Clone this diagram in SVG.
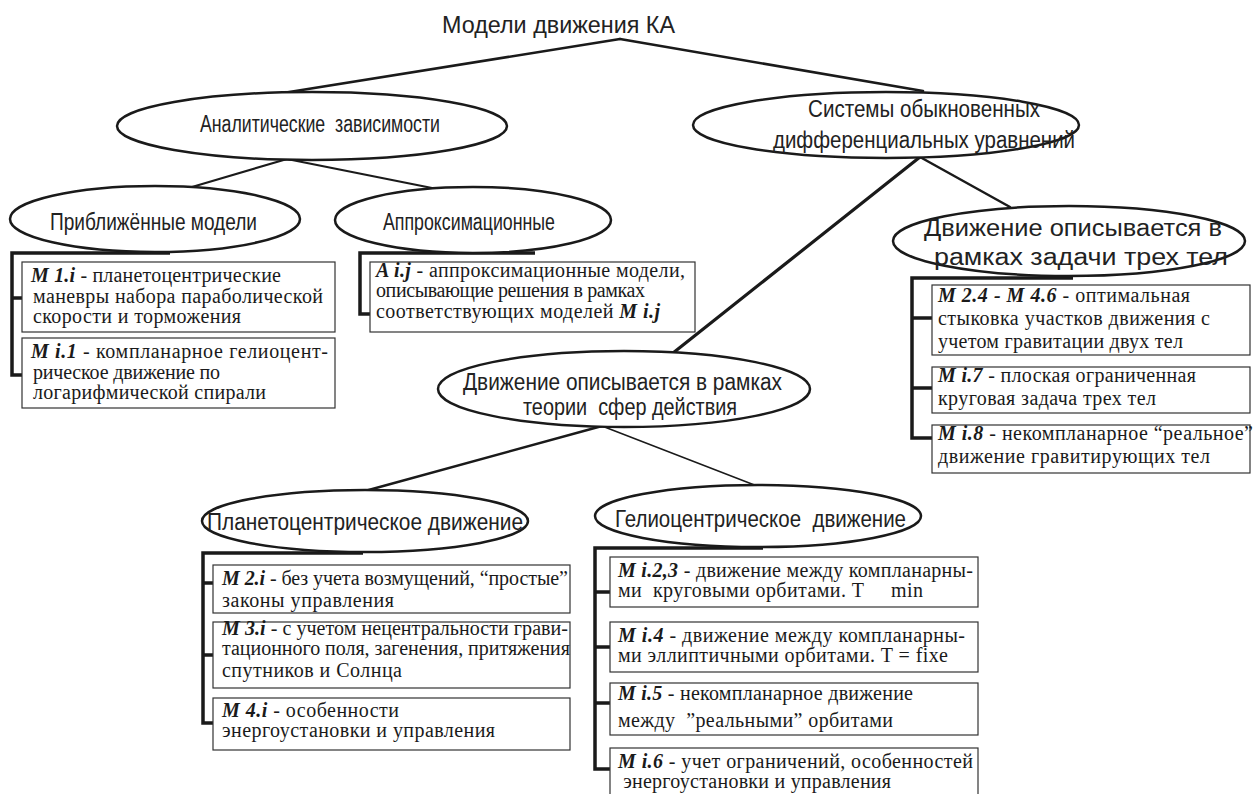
<svg xmlns="http://www.w3.org/2000/svg" width="1253" height="794" viewBox="0 0 1253 794">
<style>
.n ellipse{fill:#fff;stroke:#1a1a1a;stroke-width:2.5}
.box{fill:#fff;stroke:#333;stroke-width:1.2}
.br{fill:none;stroke:#1a1a1a;stroke-width:3.5}
.c line{stroke:#1a1a1a;stroke-linecap:round}
.e{font-family:"Liberation Sans",Arial,sans-serif;font-size:23px;fill:#222;white-space:pre}
.t{font-family:"Liberation Serif","Times New Roman",serif;font-size:20px;fill:#1a1a1a;white-space:pre}
.b{font-weight:bold;font-style:italic}
</style>
<rect width="1253" height="794" fill="#fff"/>
<g id="connectors" class="c">
<line x1="620" y1="39" x2="283" y2="93" stroke-width="2.5"/>
<line x1="620" y1="39" x2="923" y2="91" stroke-width="2.5"/>
<line x1="287" y1="159" x2="192" y2="187" stroke-width="2.2"/>
<line x1="287" y1="159" x2="437" y2="189" stroke-width="2.2"/>
<line x1="920" y1="157" x2="673" y2="353" stroke-width="3.2"/>
<line x1="920" y1="157" x2="1010" y2="207" stroke-width="2.5"/>
<line x1="602" y1="426" x2="365" y2="491" stroke-width="2.5"/>
<line x1="602" y1="426" x2="757" y2="486" stroke-width="1.5"/>
<path class="br" d="M170 253 H12 V375 H23 M12 298 H23"/>
<path class="br" d="M535 253 H360 V314 H370"/>
<path class="br" d="M1073 278 H912 V438 H932 M912 318 H932 M912 388 H932"/>
<path class="br" d="M363 553 H203 V723 H213 M203 583 H213 M203 655 H213"/>
<path class="br" d="M763 548 H595 V769 H610 M595 592 H610 M595 647 H610 M595 703 H610"/>
</g>
<g id="title"><text class="e" x="442" y="33" font-size="22" textLength="233" lengthAdjust="spacingAndGlyphs">Модели движения КА</text></g>
<g id="analytic" class="n"><ellipse cx="312" cy="126" rx="195" ry="34"/><text class="e" x="200" y="132" textLength="240" lengthAdjust="spacingAndGlyphs">Аналитические  зависимости</text></g>
<g id="ode" class="n"><ellipse cx="886" cy="125" rx="193" ry="33"/><text class="e" x="808" y="117" textLength="232" lengthAdjust="spacingAndGlyphs">Системы обыкновенных</text><text class="e" x="773" y="148" textLength="302" lengthAdjust="spacingAndGlyphs">дифференциальных уравнений</text></g>
<g id="approx-models" class="n"><ellipse cx="155" cy="219" rx="145" ry="33"/><text class="e" x="50" y="230" textLength="207" lengthAdjust="spacingAndGlyphs">Приближённые модели</text></g>
<g id="approximation" class="n"><ellipse cx="473" cy="220" rx="138" ry="33"/><text class="e" x="383" y="230" textLength="172" lengthAdjust="spacingAndGlyphs">Аппроксимационные</text></g>
<g id="three-body" class="n"><ellipse cx="1069" cy="241" rx="176" ry="35"/><text class="e" x="924" y="236" font-size="24" textLength="298" lengthAdjust="spacingAndGlyphs">Движение описывается в</text><text class="e" x="934" y="265" font-size="24" textLength="294" lengthAdjust="spacingAndGlyphs">рамках задачи трех тел</text></g>
<g id="spheres" class="n"><ellipse cx="624" cy="389" rx="186" ry="38"/><text class="e" x="463" y="390" font-size="22" textLength="319" lengthAdjust="spacingAndGlyphs">Движение описывается в рамках</text><text class="e" x="523" y="415" font-size="22" textLength="214" lengthAdjust="spacingAndGlyphs">теории  сфер действия</text></g>
<g id="planeto" class="n"><ellipse cx="365" cy="521" rx="163" ry="31"/><text class="e" x="207" y="530" textLength="316" lengthAdjust="spacingAndGlyphs">Планетоцентрическое движение</text></g>
<g id="helio" class="n"><ellipse cx="758" cy="516" rx="163" ry="31"/><text class="e" x="615" y="527" textLength="291" lengthAdjust="spacingAndGlyphs">Гелиоцентрическое  движение</text></g>

<g id="box-m1i"><rect class="box" x="22" y="262" width="313" height="70"/>
<text class="t" x="31" y="282" textLength="250"><tspan class="b">M 1.i</tspan> - планетоцентрические</text>
<text class="t" x="33" y="303" textLength="290">маневры набора параболической</text>
<text class="t" x="33" y="323" textLength="208">скорости и торможения</text></g>
<g id="box-mi1"><rect class="box" x="22" y="338" width="313" height="70"/>
<text class="t" x="31" y="358" textLength="297"><tspan class="b">M i.1</tspan> - компланарное гелиоцент-</text>
<text class="t" x="33" y="379" textLength="187">рическое движение по</text>
<text class="t" x="33" y="399" textLength="233">логарифмической спирали</text></g>
<g id="box-aij"><rect class="box" x="370" y="262" width="325" height="70"/>
<text class="t" x="376" y="277" textLength="309"><tspan class="b">A i.j</tspan> - аппроксимационные модели,</text>
<text class="t" x="376" y="297" textLength="269">описывающие решения в рамках</text>
<text class="t" x="376" y="318" textLength="284">соответствующих моделей <tspan class="b">M i.j</tspan></text></g>
<g id="box-m24"><rect class="box" x="932" y="285" width="318" height="70"/>
<text class="t" x="938" y="302" textLength="252"><tspan class="b">M 2.4 - M 4.6</tspan> - оптимальная</text>
<text class="t" x="938" y="325" textLength="272">стыковка участков движения с</text>
<text class="t" x="938" y="348" textLength="245">учетом гравитации двух тел</text></g>
<g id="box-mi7"><rect class="box" x="932" y="367" width="318" height="46"/>
<text class="t" x="938" y="382" textLength="258"><tspan class="b">M i.7</tspan> - плоская ограниченная</text>
<text class="t" x="938" y="405" textLength="218">круговая задача трех тел</text></g>
<g id="box-mi8"><rect class="box" x="932" y="425" width="318" height="48"/>
<text class="t" x="938" y="440" textLength="315"><tspan class="b">M i.8</tspan> - некомпланарное “реальное”</text>
<text class="t" x="938" y="463" textLength="272">движение гравитирующих тел</text></g>
<g id="box-m2i"><rect class="box" x="213" y="565" width="357" height="48"/>
<text class="t" x="222" y="585" textLength="346"><tspan class="b">M 2.i</tspan> - без учета возмущений, “простые”</text>
<text class="t" x="222" y="607" textLength="172">законы управления</text></g>
<g id="box-m3i"><rect class="box" x="213" y="622" width="357" height="66"/>
<text class="t" x="222" y="635" textLength="346"><tspan class="b">M 3.i</tspan> - с учетом нецентральности грави-</text>
<text class="t" x="222" y="655" textLength="348">тационного поля, загенения, притяжения</text>
<text class="t" x="222" y="677" textLength="180">спутников и Солнца</text></g>
<g id="box-m4i"><rect class="box" x="213" y="698" width="357" height="52"/>
<text class="t" x="222" y="717" textLength="177"><tspan class="b">M 4.i</tspan> - особенности</text>
<text class="t" x="222" y="737" textLength="273">энергоустановки и управления</text></g>
<g id="box-mi23"><rect class="box" x="610" y="557" width="368" height="50"/>
<text class="t" x="618" y="577" textLength="355"><tspan class="b">M i.2,3</tspan> - движение между компланарны-</text>
<text class="t" x="618" y="597" textLength="305">ми  круговыми орбитами. T     min</text></g>
<g id="box-mi4"><rect class="box" x="610" y="622" width="368" height="50"/>
<text class="t" x="618" y="642" textLength="347"><tspan class="b">M i.4</tspan> - движение между компланарны-</text>
<text class="t" x="618" y="662" textLength="330">ми эллиптичными орбитами. T = fixe</text></g>
<g id="box-mi5"><rect class="box" x="610" y="683" width="368" height="52"/>
<text class="t" x="618" y="700" textLength="295"><tspan class="b">M i.5</tspan> - некомпланарное движение</text>
<text class="t" x="618" y="727" textLength="275">между  ”реальными” орбитами</text></g>
<g id="box-mi6"><rect class="box" x="610" y="748" width="368" height="60"/>
<text class="t" x="618" y="768" textLength="355"><tspan class="b">M i.6</tspan> - учет ограничений, особенностей</text>
<text class="t" x="618" y="788" textLength="273"> энергоустановки и управления</text></g>
</svg>
